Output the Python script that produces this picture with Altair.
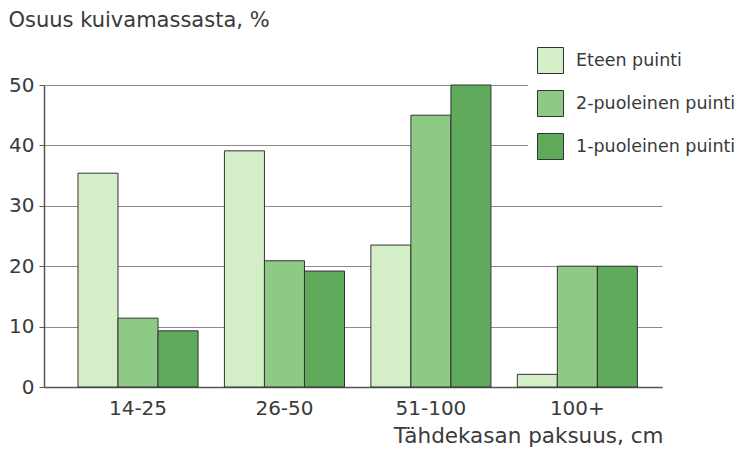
import altair as alt
import pandas as pd

# Pile thickness classes and the share of dry mass for each threshing method
classes = ["14-25", "26-50", "51-100", "100+"]
series = ["Eteen puinti", "2-puoleinen puinti", "1-puoleinen puinti"]
eteen = [35.4, 39.1, 23.5, 2.1]
kaksi = [11.4, 20.9, 45.0, 20.0]
yksi = [9.3, 19.2, 50.0, 20.0]
colors = ["#d4efc8", "#8ec986", "#5faa5b"]

rows = []
for name, vals in zip(series, [eteen, kaksi, yksi]):
    for c, v in zip(classes, vals):
        rows.append({"luokka": c, "menetelma": name, "osuus": v})
df = pd.DataFrame(rows)

FONT = "DejaVu Sans"
TXT = "#3a3a3a"

chart = (
    alt.Chart(df)
    .mark_bar(stroke="#333333", strokeWidth=1)
    .encode(
        x=alt.X(
            "luokka:N",
            sort=classes,
            scale=alt.Scale(paddingInner=0.18, paddingOuter=0.2, align=0.58),
            axis=alt.Axis(
                title="Tähdekasan paksuus, cm",
                labelAngle=0,
                ticks=False,
                domainColor="#555555",
                domainWidth=1.5,
                labelFontSize=20,
                labelColor=TXT,
                labelFont=FONT,
                labelPadding=11,
                titleFont=FONT,
                titleFontSize=21.5,
                titleFontWeight="normal",
                titleColor=TXT,
                titleAlign="right",
                titleAnchor="end",
                titleBaseline="alphabetic",
                titleX=619,
                titleY=55,
            ),
        ),
        xOffset=alt.XOffset(
            "menetelma:N",
            sort=series,
            scale=alt.Scale(paddingInner=0, paddingOuter=0),
        ),
        y=alt.Y(
            "osuus:Q",
            scale=alt.Scale(domain=[0, 50], nice=False),
            axis=alt.Axis(
                title="Osuus kuivamassasta, %",
                values=[0, 10, 20, 30, 40, 50],
                grid=True,
                gridColor="#8a8a8a",
                gridWidth=1,
                domainColor="#555555",
                domainWidth=1.5,
                tickColor="#555555",
                tickSize=5,
                labelFontSize=20,
                labelColor=TXT,
                labelFont=FONT,
                labelPadding=5,
                titleFont=FONT,
                titleFontSize=21,
                titleFontWeight="normal",
                titleColor=TXT,
                titleAngle=0,
                titleAlign="left",
                titleBaseline="alphabetic",
                titleX=-36,
                titleY=-59,
            ),
        ),
        fill=alt.Fill(
            "menetelma:N",
            sort=series,
            scale=alt.Scale(domain=series, range=colors),
            legend=alt.Legend(
                title=None,
                orient="none",
                legendX=484,
                legendY=-47,
                padding=9,
                fillColor="white",
                symbolType="square",
                symbolSize=676,
                symbolStrokeColor="#333333",
                symbolStrokeWidth=1,
                rowPadding=12,
                labelOffset=12,
                labelFont=FONT,
                labelFontSize=17.5,
                labelColor=TXT,
                labelLimit=300,
            ),
        ),
    )
    .properties(
        width=618,
        height=302,
        autosize=alt.AutoSizeParams(type="none"),
        padding={"left": 44, "top": 85, "right": 77, "bottom": 65},
        background="white",
    )
    .configure_view(stroke=None)
)

chart.save("out.html", embed_options={"renderer": "svg", "actions": False})
